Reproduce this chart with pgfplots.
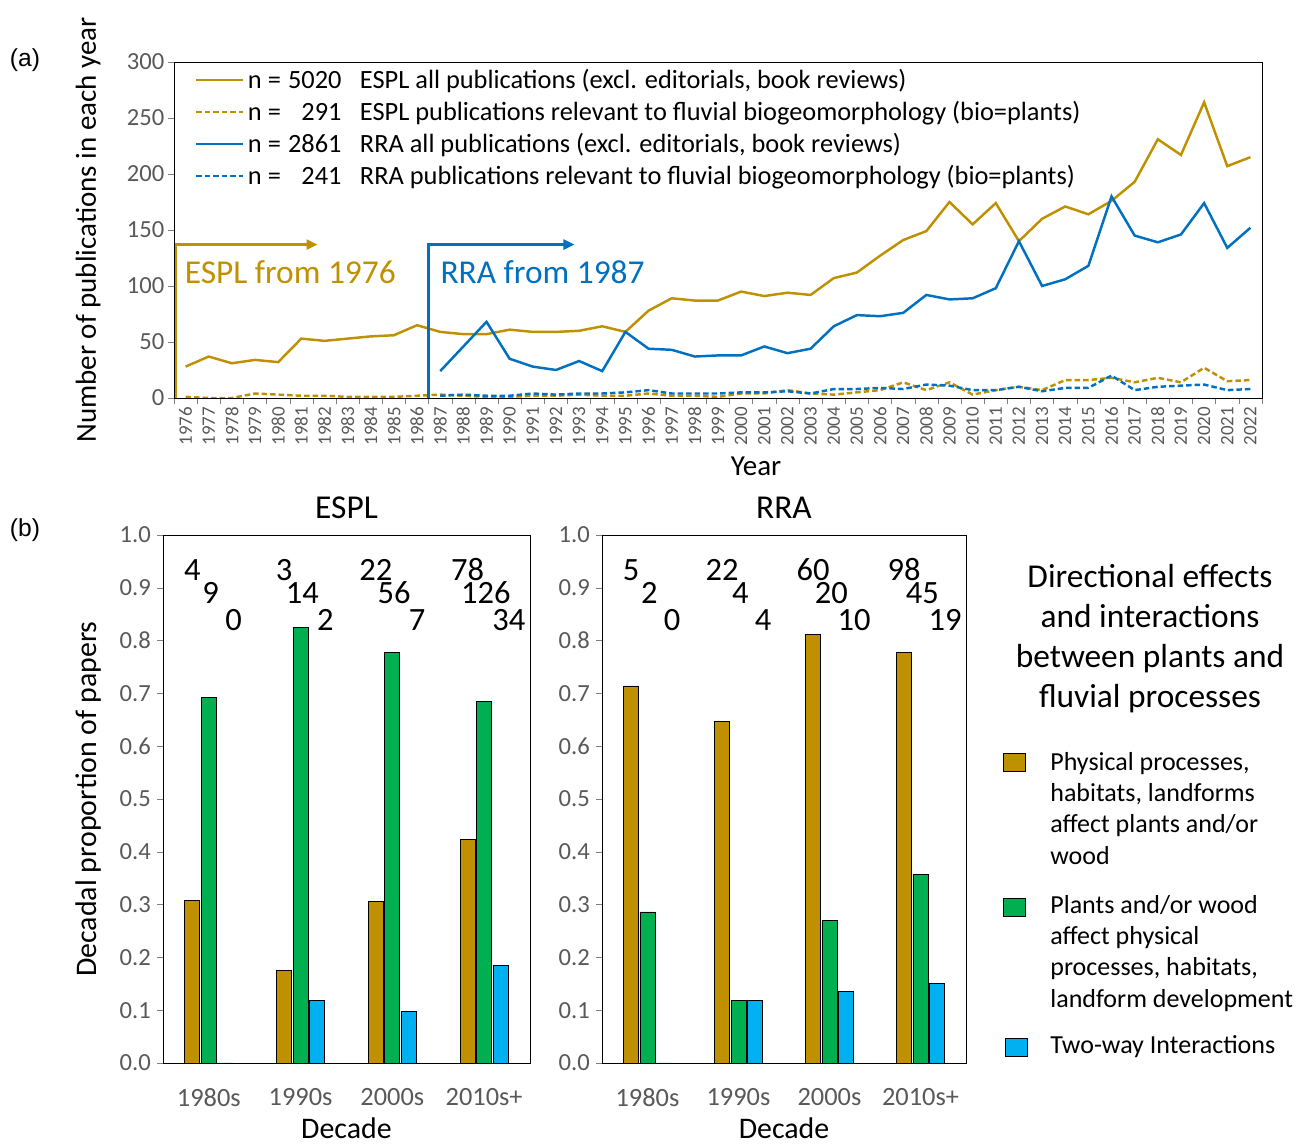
\documentclass[border=0pt]{standalone}
\usepackage{pgfplots}
\usepackage{pgfplotstable}
\pgfplotsset{compat=1.18}
\usepackage{fontspec}
\setmainfont{Carlito}
\newfontfamily\arialfont{Liberation Sans}
\usetikzlibrary{arrows.meta}
\definecolor{gold}{HTML}{BF9000}
\definecolor{rblue}{HTML}{0070C0}
\definecolor{bgreen}{HTML}{00B050}
\definecolor{bcyan}{HTML}{00B0F0}
\definecolor{tgray}{HTML}{595959}
\newcommand\nn[2]{n =\makebox[2.3em][r]{#1}\hspace{0.7em}#2}

\pgfplotstableread{
year espl esplrel
1976 28 1
1977 37 0
1978 31 0
1979 34 4
1980 32 3
1981 53 2
1982 51 2
1983 53 1
1984 55 1
1985 56 1
1986 65 2
1987 59 3
1988 57 2
1989 57 1
1990 61 1
1991 59 2
1992 59 2
1993 60 3
1994 64 2
1995 59 2
1996 78 4
1997 89 2
1998 87 2
1999 87 1
2000 95 4
2001 91 4
2002 94 7
2003 92 4
2004 107 3
2005 112 5
2006 127 7
2007 141 14
2008 149 7
2009 175 14
2010 155 3
2011 174 7
2012 140 10
2013 160 7
2014 171 16
2015 164 16
2016 176 18
2017 193 14
2018 231 18
2019 217 14
2020 264 27
2021 207 15
2022 215 16
}\esplTable

\pgfplotstableread{
year rra rrarel
1987 24 2
1988 46 3
1989 68 2
1990 35 2
1991 28 4
1992 25 3
1993 33 4
1994 24 4
1995 59 5
1996 44 7
1997 43 4
1998 37 4
1999 38 4
2000 38 5
2001 46 5
2002 40 6
2003 44 4
2004 64 8
2005 74 8
2006 73 9
2007 76 8
2008 92 12
2009 88 11
2010 89 7
2011 98 7
2012 140 10
2013 100 6
2014 106 9
2015 118 9
2016 180 20
2017 145 7
2018 139 10
2019 146 11
2020 174 12
2021 134 7
2022 152 8
}\rraTable

\pgfplotstableread{
x phys plants two
0 0.308 0.692 0
1 0.176 0.824 0.118
2 0.306 0.778 0.097
3 0.424 0.685 0.185
}\esplBars

\pgfplotstableread{
x phys plants two
0 0.714 0.286 0
1 0.647 0.118 0.118
2 0.811 0.270 0.135
3 0.778 0.357 0.151
}\rraBars

\pgfplotsset{
  barax/.style={
    scale only axis, height=10.56cm,
    xmin=-0.5, xmax=3.5, ymin=0, ymax=1,
    ytick={0,0.1,0.2,0.3,0.4,0.5,0.6,0.7,0.8,0.9,1.0},
    xtick={0,1,2,3}, xticklabels={1980s,1990s,2000s,2010s+},
    major x tick style={draw=none},
    tick align=outside, tick pos=left, major tick length=0.12cm,
    yticklabel style={/pgf/number format/fixed, /pgf/number format/fixed zerofill, /pgf/number format/precision=1,
      /pgf/number format/assume math mode=true, font=\fontsize{14}{15}\selectfont, text=tgray},
    xticklabel style={font=\fontsize{15}{16}\selectfont, text=tgray, yshift=-0.27cm},
    xlabel={Decade},
    xlabel style={font=\fontsize{17}{18}\selectfont, at={(axis description cs:0.5,-0.123)}, anchor=center},
    title style={font=\fontsize{19}{20}\selectfont},
  },
}
\tikzset{numnode/.style={font=\fontsize{18.5}{19}\selectfont, inner sep=0pt}}

\begin{document}
\begin{tikzpicture}
\useasboundingbox (0,0) rectangle (26.14,22.9);
\node[font=\arialfont\fontsize{14}{15}\selectfont] at (0.5,21.7) {(a)};
\node[font=\arialfont\fontsize{14}{15}\selectfont] at (0.5,12.3) {(b)};

\begin{axis}[
  at={(3.48cm,14.94cm)}, anchor=south west,
  scale only axis, width=21.76cm, height=6.72cm,
  xmin=1975.5, xmax=2022.5, ymin=0, ymax=300,
  ytick={0,50,...,300},
  xtick={1976,...,2022},
  minor xtick={1975.5,1976.5,...,2022.5},
  major x tick style={draw=none},
  tick align=outside, tick pos=left,
  major tick length=0.12cm, minor tick length=0.12cm,
  /pgf/number format/assume math mode=true,
  /pgf/number format/1000 sep={},
  xticklabel style={rotate=90, anchor=east, font=\fontsize{10.8}{11}\selectfont, text=tgray, inner sep=1.5pt},
  yticklabel style={font=\fontsize{14}{15}\selectfont, text=tgray, xshift=0.05cm},
  xlabel={Year}, ylabel={Number of publications in each year},
  xlabel style={font=\fontsize{16.5}{18}\selectfont, at={(axis description cs:0.535,-0.202)}, anchor=center},
  ylabel style={font=\fontsize{16.5}{18}\selectfont, at={(axis description cs:-0.079,0.5)}, anchor=center},
  legend style={at={(0.019,0.99)}, anchor=north west, draw=none, fill=none,
     font=\fontsize{15}{16}\selectfont, row sep=1.7pt, inner sep=0pt},
  legend cell align=left,
  legend image code/.code={\draw[#1] (0cm,0cm) -- (0.94cm,0cm);},
]
\addplot[gold, line width=1.4pt] table[x=year,y=espl]{\esplTable};
\addlegendentry{\nn{5020}{ESPL all publications (excl. editorials, book reviews)}}
\addplot[gold, line width=1.4pt, dash pattern=on 0.11cm off 0.06cm] table[x=year,y=esplrel]{\esplTable};
\addlegendentry{\nn{291}{ESPL publications relevant to fluvial biogeomorphology (bio=plants)}}
\addplot[rblue, line width=1.4pt] table[x=year,y=rra]{\rraTable};
\addlegendentry{\nn{2861}{RRA all publications (excl. editorials, book reviews)}}
\addplot[rblue, line width=1.4pt, dash pattern=on 0.11cm off 0.06cm] table[x=year,y=rrarel]{\rraTable};
\addlegendentry{\nn{241}{RRA publications relevant to fluvial biogeomorphology (bio=plants)}}
\draw[gold, line width=1.4pt, -{Triangle[length=0.22cm,width=0.2cm]}] (axis cs:1975.58,0) -- (axis cs:1975.58,137) -- (axis cs:1981.7,137);
\draw[rblue, line width=1.4pt, -{Triangle[length=0.22cm,width=0.2cm]}] (axis cs:1986.5,0) -- (axis cs:1986.5,137) -- (axis cs:1992.8,137);
\node[gold, anchor=west, font=\fontsize{19}{20}\selectfont, inner sep=0pt] at (axis cs:1975.95,112) {ESPL from 1976};
\node[rblue, anchor=west, font=\fontsize{19}{20}\selectfont, inner sep=0pt] at (axis cs:1987.0,112) {RRA from 1987};
\end{axis}

\begin{axis}[barax,
  at={(3.26cm,1.64cm)}, anchor=south west, width=7.34cm,
  title={ESPL},
  ylabel={Decadal proportion of papers},
  ylabel style={font=\fontsize{17}{18}\selectfont, at={(axis description cs:-0.204,0.5)}, anchor=center},
]
\addplot[ybar, bar width=0.165, bar shift=-0.18, fill=gold, draw=black, line width=0.5pt] table[x=x,y=phys]{\esplBars};
\addplot[ybar, bar width=0.165, bar shift=0, fill=bgreen, draw=black, line width=0.5pt] table[x=x,y=plants]{\esplBars};
\addplot[ybar, bar width=0.165, bar shift=0.18, fill=bcyan, draw=black, line width=0.5pt] table[x=x,y=two]{\esplBars};
\node[numnode] at (axis cs:-0.18,0.934) {4};
\node[numnode] at (axis cs:0.02,0.890) {9};
\node[numnode] at (axis cs:0.27,0.839) {0};
\node[numnode] at (axis cs:0.82,0.934) {3};
\node[numnode] at (axis cs:1.02,0.890) {14};
\node[numnode] at (axis cs:1.27,0.839) {2};
\node[numnode] at (axis cs:1.82,0.934) {22};
\node[numnode] at (axis cs:2.02,0.890) {56};
\node[numnode] at (axis cs:2.27,0.839) {7};
\node[numnode] at (axis cs:2.82,0.934) {78};
\node[numnode] at (axis cs:3.02,0.890) {126};
\node[numnode] at (axis cs:3.27,0.839) {34};
\end{axis}

\begin{axis}[barax,
  at={(12.04cm,1.64cm)}, anchor=south west, width=7.28cm,
  title={RRA},
]
\addplot[ybar, bar width=0.165, bar shift=-0.18, fill=gold, draw=black, line width=0.5pt] table[x=x,y=phys]{\rraBars};
\addplot[ybar, bar width=0.165, bar shift=0, fill=bgreen, draw=black, line width=0.5pt] table[x=x,y=plants]{\rraBars};
\addplot[ybar, bar width=0.165, bar shift=0.18, fill=bcyan, draw=black, line width=0.5pt] table[x=x,y=two]{\rraBars};
\node[numnode] at (axis cs:-0.18,0.934) {5};
\node[numnode] at (axis cs:0.02,0.890) {2};
\node[numnode] at (axis cs:0.27,0.839) {0};
\node[numnode] at (axis cs:0.82,0.934) {22};
\node[numnode] at (axis cs:1.02,0.890) {4};
\node[numnode] at (axis cs:1.27,0.839) {4};
\node[numnode] at (axis cs:1.82,0.934) {60};
\node[numnode] at (axis cs:2.02,0.890) {20};
\node[numnode] at (axis cs:2.27,0.839) {10};
\node[numnode] at (axis cs:2.82,0.934) {98};
\node[numnode] at (axis cs:3.02,0.890) {45};
\node[numnode] at (axis cs:3.27,0.839) {19};
\end{axis}

% legend for panel (b)
\node[align=center, font=\fontsize{19}{22.8}\selectfont, inner sep=0pt] at (23.0,10.12)
  {Directional effects\\and interactions\\between plants and\\fluvial processes};
\filldraw[fill=gold, draw=black, line width=0.5pt] (20.06,7.84) rectangle (20.5,7.48);
\filldraw[fill=bgreen, draw=black, line width=0.5pt] (20.06,4.94) rectangle (20.5,4.58);
\filldraw[fill=bcyan, draw=black, line width=0.5pt] (20.1,2.14) rectangle (20.54,1.78);
\node[anchor=north west, align=left, font=\fontsize{14.8}{17.8}\selectfont, inner sep=0pt] at (21.0,7.86)
  {Physical processes,\\habitats, landforms\\affect plants and/or\\wood};
\node[anchor=north west, align=left, font=\fontsize{14.8}{17.8}\selectfont, inner sep=0pt] at (21.0,5.0)
  {Plants and/or wood\\affect physical\\processes, habitats,\\landform development};
\node[anchor=north west, align=left, font=\fontsize{14.8}{17.8}\selectfont, inner sep=0pt] at (21.0,2.2)
  {Two-way Interactions};
\end{tikzpicture}
\end{document}
